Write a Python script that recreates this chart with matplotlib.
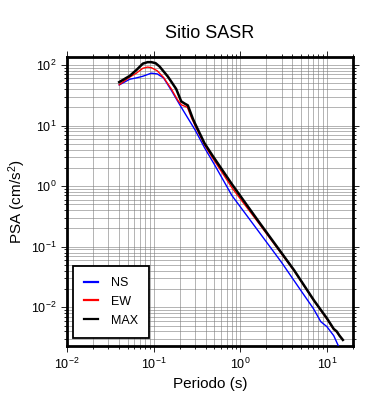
import numpy as np
import matplotlib
matplotlib.use("Agg")
import matplotlib.pyplot as plt

plt.rcParams.update({
    "font.family": ["Liberation Sans", "DejaVu Sans"],
    "mathtext.fontset": "custom",
    "mathtext.rm": "Liberation Sans",
    "mathtext.it": "Liberation Sans:italic",
    "mathtext.bf": "Liberation Sans:bold",
})

# --- data (period in s, PSA in cm/s^2) ---
t_ns = [0.04, 0.053, 0.063, 0.075, 0.094, 0.11, 0.13, 0.16, 0.2, 0.25, 0.3,
        0.39, 0.5, 0.8, 1.65, 3.0, 5.0, 7.0, 8.5, 10.0, 12.0, 14.0, 15.3]
psa_ns = [46.7, 58, 61, 65, 73, 71, 61, 38, 22, 13, 8.5,
          4.2, 2.3, 0.70, 0.174, 0.055, 0.019, 0.0095, 0.0058, 0.0048, 0.0034, 0.0021, 0.0017]

t_ew = [0.04, 0.053, 0.063, 0.075, 0.085, 0.094, 0.11, 0.13, 0.16, 0.19, 0.21,
        0.245, 0.27, 0.3, 0.39, 0.48, 0.81, 1.65, 4.18, 7.09, 10.0, 12.0, 13.0, 14.0, 15.3]
psa_ew = [47, 63, 73, 88, 92, 90, 80, 62, 40, 26, 21.8,
          20, 14, 10, 4.7, 2.9, 0.92, 0.24, 0.040, 0.0128, 0.0064, 0.0043, 0.0039, 0.0034, 0.0029]

t_max = [0.04, 0.053, 0.063, 0.075, 0.085, 0.094, 0.105, 0.117, 0.146, 0.182, 0.208,
         0.228, 0.248, 0.283, 0.3, 0.386, 0.477, 0.81, 1.65, 4.18, 7.09, 10.0, 12.0, 13.0, 14.0, 15.3]
psa_max = [52, 66, 82, 105, 111, 111, 107, 94, 64, 40, 25,
           23, 21.5, 13, 10.8, 5.1, 3.2, 1.05, 0.254, 0.041, 0.013, 0.0066, 0.0044, 0.0040, 0.0034, 0.0029]

fig = plt.figure(figsize=(3.9, 4.0), dpi=100)
ax = fig.add_axes([0.172, 0.135, 0.733, 0.7225])

ax.plot(t_ns, psa_ns, color="#0000ff", lw=1.0, label="NS", zorder=3)
ax.plot(t_ew, psa_ew, color="#ff0000", lw=1.0, label="EW", zorder=4)
ax.plot(t_max, psa_max, color="black", lw=1.8, label="MAX", zorder=5)

ax.set_xscale("log")
ax.set_yscale("log")
ax.set_xlim(0.01, 20)
ax.set_ylim(0.0023, 135)

# GMT-like grid: majors and minors alike
ax.grid(True, which="both", color="#7a7a7a", lw=0.4)
ax.set_axisbelow(True)

for s in ax.spines.values():
    s.set_linewidth(2.0)

ax.tick_params(which="both", direction="out", top=True, right=True,
               labelsize=9, width=0.6)
ax.tick_params(which="major", length=4)
ax.tick_params(which="minor", length=2)

ax.set_xlabel("Periodo (s)", fontsize=11)
ax.set_ylabel("PSA (cm/s$^2$)", fontsize=11, labelpad=2)
ax.set_title("Sitio SASR", fontsize=13, pad=14)

leg = ax.legend(loc="lower left", bbox_to_anchor=(0.021, 0.028), borderaxespad=0,
                fontsize=9, handlelength=1.1, handletextpad=1.0, labelspacing=0.55,
                borderpad=0.9, fancybox=False, framealpha=1, edgecolor="black")
leg.get_frame().set_linewidth(1.3)
for line in leg.get_lines():
    line.set_linewidth(1.6)

fig.savefig("out.png", dpi=100)
